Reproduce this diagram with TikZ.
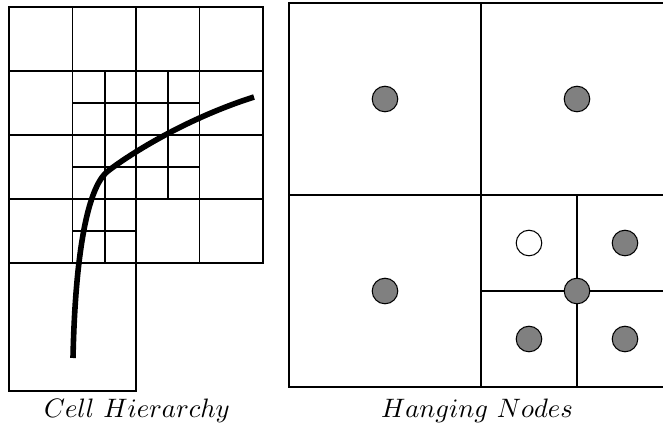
\documentclass[tikz,border=0pt]{standalone}
\usepackage{amsmath,amssymb}
\usepackage{tikz}

\begin{document}
\begin{tikzpicture}[x=0.375pt, y=-0.375pt, thin, every node/.style={font=\normalsize},
    cellnode/.style={circle, draw, fill=black!50, minimum size=9.6pt, inner sep=0pt},
    hollownode/.style={circle, draw, fill=white, minimum size=9.6pt, inner sep=0pt}]
      \useasboundingbox (0,0) rectangle (663,430);

      % cell hierarchy
      \foreach \i in {0,...,3}
        \foreach \j in {0,...,3}
          \draw (9+63.5*\i,7+64*\j) rectangle ++(63.5,64);
      \draw (9,263) rectangle (136,391);
      \draw (73,103) -- (200,103);
      \draw (73,167) -- (200,167);
      \draw (73,231) -- (136,231);
      \draw (105,71) -- (105,263);
      \draw (168,71) -- (168,199);

      \coordinate (s) at (73,358);
      \coordinate (k) at (108,171);
      \coordinate (t) at (254,97);
      \draw[line width=2.1pt] (s) .. controls (75,262) and (86,188) .. (k)
                                .. controls (126,157) and (182,120) .. (t);

      % hanging nodes
      \draw (289,3) rectangle (673,387);
      \draw (481,3) -- (481,387);
      \draw (289,195) -- (673,195);
      \draw (577,195) -- (577,387);
      \draw (481,291) -- (673,291);

      \node[cellnode] (a) at (385,99) {};
      \node[cellnode] (b) at (577,99) {};
      \node[cellnode] (c) at (385,291) {};
      \node[hollownode] (w) at (529,243) {};
      \node[cellnode] (d) at (625,243) {};
      \node[cellnode] (h) at (577,291) {};
      \node[cellnode] (e) at (529,339) {};
      \node[cellnode] (f) at (625,339) {};

      \node (lh) at (137,411) {$Cell\ Hierarchy$};
      \node (ln) at (477,411) {$Hanging\ Nodes$};
    \end{tikzpicture}
\end{document}
